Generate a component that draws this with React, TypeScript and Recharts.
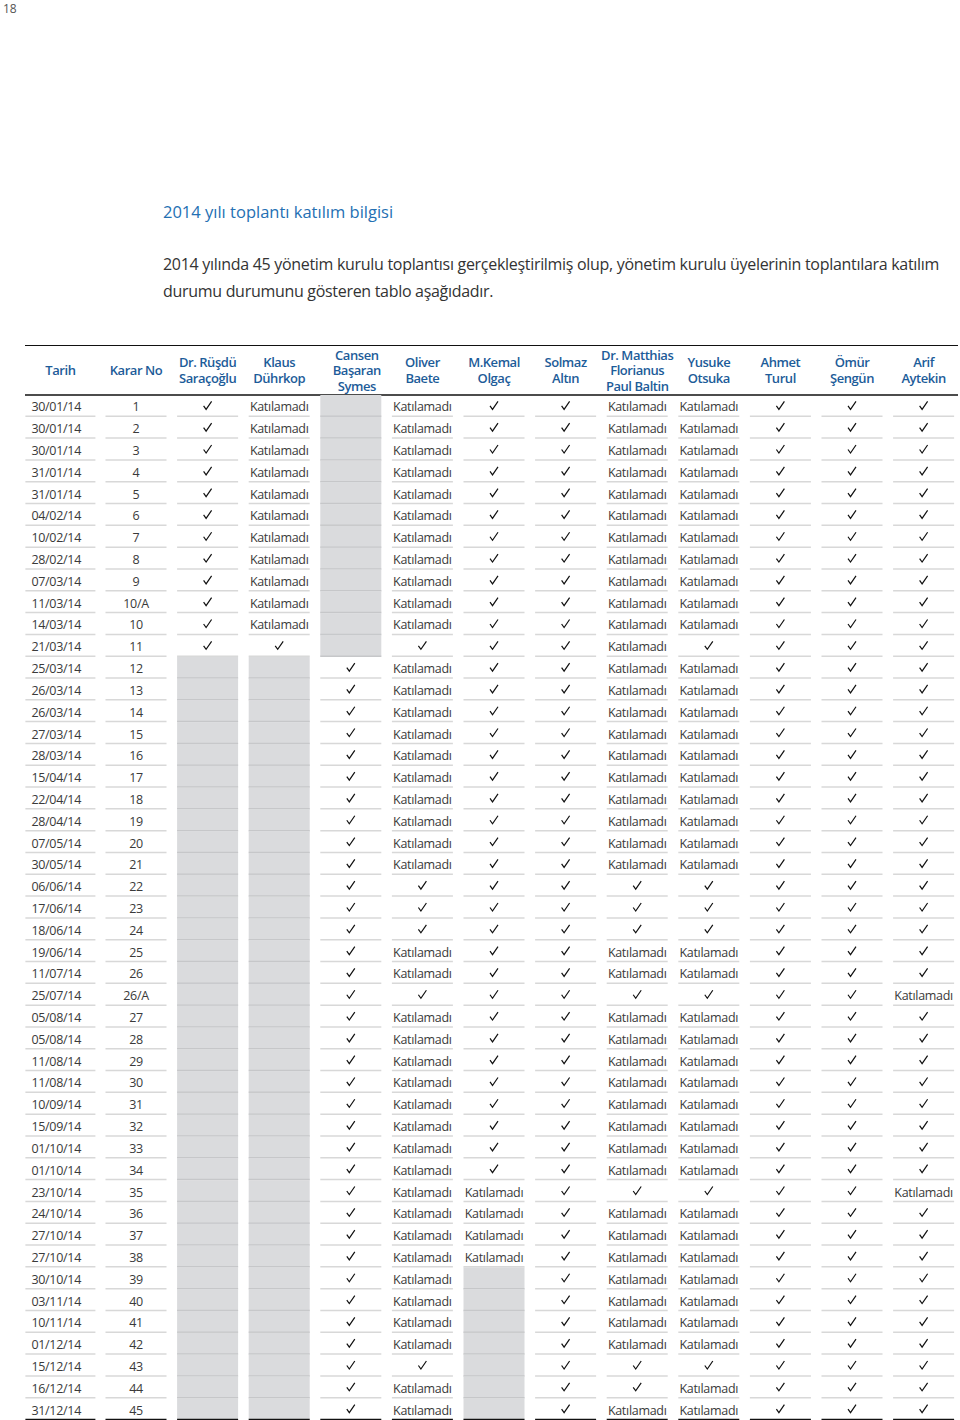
import { ScatterChart, Scatter, XAxis, YAxis } from "recharts"

// table columns (header lines per column)
const headers = [
  ["Tarih"],
  ["Karar No"],
  ["Dr. Rüşdü", "Saraçoğlu"],
  ["Klaus", "Dührkop"],
  ["Cansen", "Başaran", "Symes"],
  ["Oliver", "Baete"],
  ["M.Kemal", "Olgaç"],
  ["Solmaz", "Altın"],
  ["Dr. Matthias", "Florianus", "Paul Baltin"],
  ["Yusuke", "Otsuka"],
  ["Ahmet", "Turul"],
  ["Ömür", "Şengün"],
  ["Arif", "Aytekin"],
]

const dates = [
  "30/01/14", "30/01/14", "30/01/14", "31/01/14", "31/01/14", "04/02/14", "10/02/14", "28/02/14",
  "07/03/14", "11/03/14", "14/03/14", "21/03/14", "25/03/14", "26/03/14", "26/03/14", "27/03/14",
  "28/03/14", "15/04/14", "22/04/14", "28/04/14", "07/05/14", "30/05/14", "06/06/14", "17/06/14",
  "18/06/14", "19/06/14", "11/07/14", "25/07/14", "05/08/14", "05/08/14", "11/08/14", "11/08/14",
  "10/09/14", "15/09/14", "01/10/14", "01/10/14", "23/10/14", "24/10/14", "27/10/14", "27/10/14",
  "30/10/14", "03/11/14", "10/11/14", "01/12/14", "15/12/14", "16/12/14", "31/12/14",
]

const decisionNos = [
  "1", "2", "3", "4", "5", "6", "7", "8", "9", "10/A", "10", "11", "12", "13", "14", "15",
  "16", "17", "18", "19", "20", "21", "22", "23", "24", "25", "26", "26/A", "27", "28", "29", "30",
  "31", "32", "33", "34", "35", "36", "37", "38", "39", "40", "41", "42", "43", "44", "45",
]

// Y = katıldı, N = katılamadı, - = üye değil
const rusdu    = "YYYYYYYYYYYY-----------------------------------"
const klaus    = "NNNNNNNNNNNY-----------------------------------"
const cansen   = "------------YYYYYYYYYYYYYYYYYYYYYYYYYYYYYYYYYYY"
const oliver   = "NNNNNNNNNNNYNNNNNNNNNNYYYNNYNNNNNNNNNNNNNNNNYNN"
const kemal    = "YYYYYYYYYYYYYYYYYYYYYYYYYYYYYYYYYYYYNNNN-------"
const solmaz   = "YYYYYYYYYYYYYYYYYYYYYYYYYYYYYYYYYYYYYYYYYYYYYYY"
const matthias = "NNNNNNNNNNNNNNNNNNNNNNYYYNNYNNNNNNNNYNNNNNNNYYN"
const yusuke   = "NNNNNNNNNNNYNNNNNNNNNNYYYNNYNNNNNNNNYNNNNNNNYNN"
const ahmet    = "YYYYYYYYYYYYYYYYYYYYYYYYYYYYYYYYYYYYYYYYYYYYYYY"
const omur     = "YYYYYYYYYYYYYYYYYYYYYYYYYYYYYYYYYYYYYYYYYYYYYYY"
const arif     = "YYYYYYYYYYYYYYYYYYYYYYYYYYYNYYYYYYYYNYYYYYYYYYY"

const members = [rusdu, klaus, cansen, oliver, kemal, solmaz, matthias, yusuke, ahmet, omur, arif]

const cells: { col: number; row: number; value: string }[] = []
dates.forEach((d, r) => {
  cells.push({ col: 0, row: r, value: d })
  cells.push({ col: 1, row: r, value: decisionNos[r] })
  members.forEach((m, i) => cells.push({ col: i + 2, row: r, value: m[r] }))
})

const FONT = "'Open Sans', sans-serif"
const BLUE = "#1d5c99"
const HEADER_MID = 370
const LAST_ROW = dates.length - 1

function HeaderTick(props: any) {
  const { x, payload } = props
  const lines = headers[payload.value] || []
  const cx = payload.value === 0 ? x - 4 : payload.value === 4 ? x + 6 : x
  const lh = 15.5
  const start = HEADER_MID - ((lines.length - 1) * lh) / 2
  return (
    <text textAnchor="middle" fontFamily={FONT} fontSize={13} fontWeight={600} fill={BLUE} letterSpacing={-0.45}>
      {lines.map((l, i) => (
        <tspan key={i} x={cx} y={start + i * lh} dominantBaseline="central">
          {l}
        </tspan>
      ))}
    </text>
  )
}

function CellMark(props: any) {
  const { cx, cy, payload } = props
  const isDate = payload.col === 0
  const left = isDate ? cx - 39 : cx - 30.5
  const right = isDate ? cx + 31 : cx + 30.5
  const lineY = cy + 10.4
  const last = payload.row === LAST_ROW
  const v = payload.value
  let content = null
  if (payload.col < 2) {
    content = (
      <text x={isDate ? cx - 33 : cx} y={cy + 1} textAnchor={isDate ? "start" : "middle"} dominantBaseline="central"
        fontFamily={FONT} fontSize={12.5} fill="#3a3a3a" letterSpacing={-0.3}>
        {v}
      </text>
    )
  } else if (v === "N") {
    content = (
      <text x={cx} y={cy + 1} textAnchor="middle" dominantBaseline="central"
        fontFamily={FONT} fontSize={12.5} fill="#3a3a3a" letterSpacing={-0.3}>
        Katılamadı
      </text>
    )
  } else if (v === "Y") {
    content = (
      <path d={`M${cx - 4},${cy} L${cx - 1.5},${cy + 3.5} L${cx + 4},${cy - 4.5}`} stroke="#111" strokeWidth={1.2} fill="none" />
    )
  }
  return (
    <g>
      {v === "-" && <rect x={left} y={cy - 10.9} width={right - left} height={21.8} fill="#dadbdd" />}
      <line x1={left} x2={right} y1={lineY} y2={lineY}
        stroke={last ? "#111" : v === "-" ? "#c6c7c9" : "#d8d8d8"} strokeWidth={last ? 1.4 : 1.5} />
      {content}
    </g>
  )
}

export default function App() {
  return (
    <div style={{ position: "relative", width: 960, height: 1420, fontFamily: FONT, background: "#fff" }}>
      <style>{`body{margin:0}`}</style>
      <div style={{ position: "absolute", left: 3, top: 2, fontSize: 12, lineHeight: "14px", color: "#555" }}>18</div>
      <div style={{ position: "absolute", left: 163, top: 200, fontSize: 16.5, color: "#2470b3", whiteSpace: "nowrap", letterSpacing: 0 }}>
        2014 yılı toplantı katılım bilgisi
      </div>
      <div style={{ position: "absolute", left: 163, top: 251, fontSize: 16, color: "#333", whiteSpace: "nowrap", letterSpacing: -0.3, lineHeight: "27px" }}>
        <div>2014 yılında 45 yönetim kurulu toplantısı gerçekleştirilmiş olup, yönetim kurulu üyelerinin toplantılara katılım</div>
        <div>durumu durumunu gösteren tablo aşağıdadır.</div>
      </div>
      <div style={{ position: "absolute", left: 25, top: 344.5, width: 933, height: 0, borderTop: "1.3px solid #111" }} />
      <div style={{ position: "absolute", left: 0, top: 0 }}>
        <ScatterChart width={960} height={1420} margin={{ top: 345, right: 2, bottom: 0, left: 25 }}>
          <XAxis
            type="number"
            dataKey="col"
            orientation="top"
            domain={[-0.5503, 12.4804]}
            ticks={headers.map((_, i) => i)}
            interval={0}
            height={50}
            tickLine={false}
            axisLine={{ stroke: "#111", strokeWidth: 1.3 }}
            tick={<HeaderTick />}
          />
          <YAxis type="number" dataKey="row" domain={[-0.5, 46.5]} reversed hide />
          <Scatter data={cells} shape={<CellMark />} isAnimationActive={false} />
        </ScatterChart>
      </div>
    </div>
  )
}
